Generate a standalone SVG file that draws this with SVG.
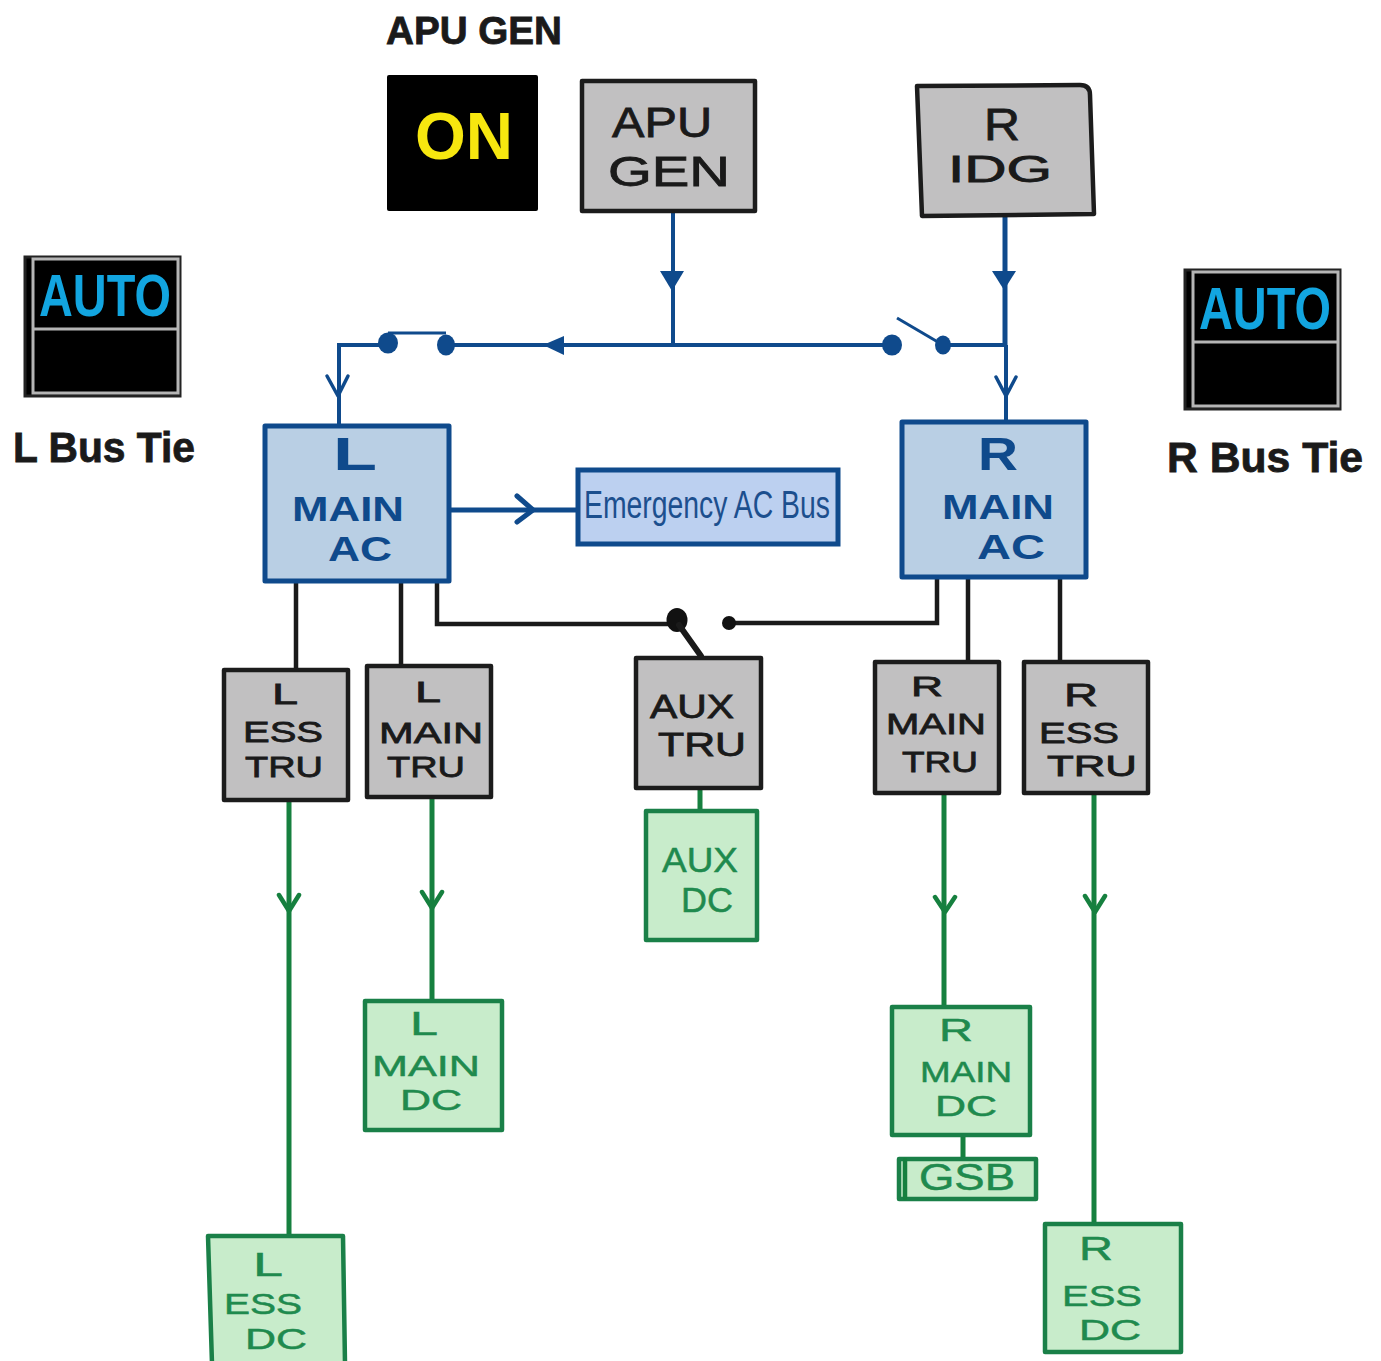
<svg xmlns="http://www.w3.org/2000/svg" width="1381" height="1361" viewBox="0 0 1381 1361">
<style>
text{font-family:"Liberation Sans",Arial,sans-serif;text-anchor:middle}
.gy{fill:#c1c0c1;stroke:#1c1c1c;stroke-width:4.5;stroke-linejoin:round}
.bl{fill:#b9cfe4;stroke:#0f4a8c;stroke-width:5;stroke-linejoin:round}
.gr{fill:#c8eccb;stroke:#1a8048;stroke-width:4.5;stroke-linejoin:round}
.k{fill:#1a1a1a;stroke:#1a1a1a;stroke-width:.8}
.b{fill:#0f4a8c;font-weight:bold}
.g{fill:#1f8a4e;stroke:#1f8a4e;stroke-width:.5}
.wb{fill:#000;stroke:#222;stroke-width:3}
.wi{fill:none;stroke:#b5b5b5;stroke-width:3}
.au{fill:#12a5e0;font-weight:bold}
.cb{fill:none;stroke:#0f4a8c;stroke-width:4}
.cb5{fill:none;stroke:#0f4a8c;stroke-width:5}
.cb3{fill:none;stroke:#0f4a8c;stroke-width:3}
.ck{fill:none;stroke:#1a1a1a;stroke-width:4.5}
.ck6{fill:none;stroke:#1a1a1a;stroke-width:6;stroke-linecap:round}
.cg{fill:none;stroke:#16803f;stroke-width:5}
.ob{fill:none;stroke:#0f4a8c;stroke-width:3.5;stroke-linecap:round;stroke-linejoin:round}
.ob5{fill:none;stroke:#0f4a8c;stroke-width:5;stroke-linecap:round;stroke-linejoin:round}
.og{fill:none;stroke:#16803f;stroke-width:4.5;stroke-linecap:round;stroke-linejoin:round}
.fb{fill:#0f4a8c}
.fk{fill:#111}
</style>
<rect width="1381" height="1361" fill="#fff"/>
<g id="connectors">
<path class="cb" d="M673 210V345M339 345H388M446 345H892M943 345H1004"/>
<path class="cb" d="M339 343V424"/>
<path class="cb3" d="M388 333H446"/>
<path class="fb" d="M660 271H684L672 291Z"/>
<path class="fb" d="M564 336V355L543 345Z"/>
<path class="fb" d="M992 271H1016L1004 290Z"/>
<path class="ob" d="M327 376L338 396L348 376"/>
<path class="cb5" d="M1005 217V345"/>
<path class="cb" d="M1006 345V421"/>
<path class="ob" d="M996 377L1006 396L1016 377"/>
<path class="cb3" d="M897 318L943 345"/>
<ellipse class="fb" cx="388" cy="343" rx="10" ry="10.5"/>
<ellipse class="fb" cx="446" cy="345" rx="9" ry="10.5"/>
<ellipse class="fb" cx="892" cy="345" rx="10" ry="10.5"/>
<ellipse class="fb" cx="943" cy="345" rx="8" ry="9.5"/>
<path class="cb5" d="M450 510H578"/>
<path class="ob5" d="M517 496L533 510L517 522"/>
<path class="ck" d="M296 582V670M401 582V666"/>
<path class="ck" d="M437 582V624H678"/>
<path class="ck" d="M729 623H937V578M968 578V662M1060 578V662"/>
<ellipse class="fk" cx="677" cy="620" rx="10.500" ry="12"/>
<circle class="fk" cx="729" cy="623" r="7"/>
<path class="ck6" d="M679 625L701 656"/>
<path class="cg" d="M289 800V1236M432 798V1000M700 788V811M944 794V1006M1094 794V1224M963 1135V1158"/>
<path class="og" d="M279 895L289 911L299 895M422 892L432 908L442 892M935 897L945 912L955 897M1085 896L1095 912L1105 896"/>
</g>
<g id="apu-gen-label"><text class="k" x="474" y="44" font-size="38" font-weight="bold" textLength="176" lengthAdjust="spacingAndGlyphs">APU GEN</text></g>
<g id="apu-gen-indicator"><rect x="387" y="75" width="151" height="136" fill="#000" rx="2"/><text x="464" y="159" font-size="66" font-weight="bold" fill="#f7e70f" textLength="98" lengthAdjust="spacingAndGlyphs">ON</text></g>
<g id="apu-gen"><rect class="gy" x="582" y="81" width="173" height="130"/><text class="k" x="662" y="137" font-size="42" textLength="100" lengthAdjust="spacingAndGlyphs">APU</text><text class="k" x="669" y="186" font-size="42" textLength="122" lengthAdjust="spacingAndGlyphs">GEN</text></g>
<g id="r-idg"><path class="gy" d="M917 86L1080 85Q1090 85 1090 95L1094 214L922 216Z"/><text class="k" x="1002" y="140" font-size="44" textLength="36" lengthAdjust="spacingAndGlyphs">R</text><text class="k" x="1000" y="182" font-size="36" textLength="104" lengthAdjust="spacingAndGlyphs">IDG</text></g>
<g id="l-bus-tie-indicator"><rect class="wb" x="25" y="257" width="155" height="139"/><rect class="wi" x="33" y="259" width="145" height="134"/><path class="wi" d="M33 329H178"/><text class="au" x="105" y="316" font-size="60" textLength="132" lengthAdjust="spacingAndGlyphs">AUTO</text></g>
<g id="l-bus-tie-label"><text class="k" x="104" y="462" font-size="42" font-weight="bold" textLength="182" lengthAdjust="spacingAndGlyphs">L Bus Tie</text></g>
<g id="r-bus-tie-indicator"><rect class="wb" x="1185" y="270" width="155" height="139"/><rect class="wi" x="1193" y="272" width="145" height="134"/><path class="wi" d="M1193 342H1338"/><text class="au" x="1265" y="329" font-size="60" textLength="132" lengthAdjust="spacingAndGlyphs">AUTO</text></g>
<g id="r-bus-tie-label"><text class="k" x="1265" y="472" font-size="42" font-weight="bold" textLength="196" lengthAdjust="spacingAndGlyphs">R Bus Tie</text></g>
<g id="l-main-ac"><rect class="bl" x="265" y="426" width="184" height="155"/><text class="b" x="355" y="470" font-size="46" textLength="44" lengthAdjust="spacingAndGlyphs">L</text><text class="b" x="348" y="521" font-size="35" textLength="112" lengthAdjust="spacingAndGlyphs">MAIN</text><text class="b" x="360" y="561" font-size="35" textLength="64" lengthAdjust="spacingAndGlyphs">AC</text></g>
<g id="emergency-ac-bus"><rect x="578" y="470" width="260" height="74" fill="#bcd0f0" stroke="#0f4a8c" stroke-width="5"/><text x="707" y="518" font-size="38" fill="#1c4f8e" textLength="246" lengthAdjust="spacingAndGlyphs">Emergency AC Bus</text></g>
<g id="r-main-ac"><rect class="bl" x="902" y="422" width="184" height="155"/><text class="b" x="998" y="470" font-size="46" textLength="40" lengthAdjust="spacingAndGlyphs">R</text><text class="b" x="998" y="519" font-size="35" textLength="112" lengthAdjust="spacingAndGlyphs">MAIN</text><text class="b" x="1011" y="559" font-size="35" textLength="68" lengthAdjust="spacingAndGlyphs">AC</text></g>
<g id="l-ess-tru"><rect class="gy" x="224" y="670" width="124" height="130"/><text class="k" x="285" y="704" font-size="30" textLength="26" lengthAdjust="spacingAndGlyphs">L</text><text class="k" x="283" y="742" font-size="30" textLength="80" lengthAdjust="spacingAndGlyphs">ESS</text><text class="k" x="284" y="777" font-size="30" textLength="78" lengthAdjust="spacingAndGlyphs">TRU</text></g>
<g id="l-main-tru"><rect class="gy" x="367" y="666" width="124" height="131"/><text class="k" x="428" y="702" font-size="30" textLength="26" lengthAdjust="spacingAndGlyphs">L</text><text class="k" x="431" y="743" font-size="30" textLength="104" lengthAdjust="spacingAndGlyphs">MAIN</text><text class="k" x="426" y="777" font-size="30" textLength="78" lengthAdjust="spacingAndGlyphs">TRU</text></g>
<g id="aux-tru"><rect class="gy" x="636" y="658" width="125" height="130"/><text class="k" x="692" y="718" font-size="33" textLength="84" lengthAdjust="spacingAndGlyphs">AUX</text><text class="k" x="702" y="756" font-size="33" textLength="88" lengthAdjust="spacingAndGlyphs">TRU</text></g>
<g id="r-main-tru"><rect class="gy" x="875" y="662" width="124" height="131"/><text class="k" x="927" y="696" font-size="28" textLength="32" lengthAdjust="spacingAndGlyphs">R</text><text class="k" x="936" y="734" font-size="30" textLength="100" lengthAdjust="spacingAndGlyphs">MAIN</text><text class="k" x="940" y="772" font-size="30" textLength="76" lengthAdjust="spacingAndGlyphs">TRU</text></g>
<g id="r-ess-tru"><rect class="gy" x="1024" y="662" width="124" height="131"/><text class="k" x="1081" y="706" font-size="32" textLength="34" lengthAdjust="spacingAndGlyphs">R</text><text class="k" x="1079" y="743" font-size="29" textLength="80" lengthAdjust="spacingAndGlyphs">ESS</text><text class="k" x="1092" y="776" font-size="29" textLength="90" lengthAdjust="spacingAndGlyphs">TRU</text></g>
<g id="aux-dc"><rect class="gr" x="646" y="811" width="111" height="129"/><text class="g" x="700" y="872" font-size="35" textLength="76" lengthAdjust="spacingAndGlyphs">AUX</text><text class="g" x="707" y="912" font-size="35" textLength="52" lengthAdjust="spacingAndGlyphs">DC</text></g>
<g id="l-main-dc"><rect class="gr" x="365" y="1001" width="137" height="129"/><text class="g" x="424" y="1035" font-size="34" textLength="28" lengthAdjust="spacingAndGlyphs">L</text><text class="g" x="426" y="1076" font-size="30" textLength="108" lengthAdjust="spacingAndGlyphs">MAIN</text><text class="g" x="431" y="1110" font-size="29" textLength="62" lengthAdjust="spacingAndGlyphs">DC</text></g>
<g id="r-main-dc"><rect class="gr" x="892" y="1007" width="138" height="128"/><text class="g" x="956" y="1041" font-size="32" textLength="34" lengthAdjust="spacingAndGlyphs">R</text><text class="g" x="966" y="1082" font-size="30" textLength="92" lengthAdjust="spacingAndGlyphs">MAIN</text><text class="g" x="966" y="1116" font-size="29" textLength="62" lengthAdjust="spacingAndGlyphs">DC</text></g>
<g id="gsb"><rect class="gr" x="899" y="1159" width="137" height="40"/><path class="og" d="M905 1160V1198"/><text class="g" x="967" y="1190" font-size="36" textLength="96" lengthAdjust="spacingAndGlyphs">GSB</text></g>
<g id="l-ess-dc"><path class="gr" d="M208 1236H343L345 1364H212Z"/><text class="g" x="268" y="1276" font-size="34" textLength="30" lengthAdjust="spacingAndGlyphs">L</text><text class="g" x="263" y="1314" font-size="30" textLength="78" lengthAdjust="spacingAndGlyphs">ESS</text><text class="g" x="276" y="1349" font-size="30" textLength="62" lengthAdjust="spacingAndGlyphs">DC</text></g>
<g id="r-ess-dc"><rect class="gr" x="1045" y="1224" width="136" height="128"/><text class="g" x="1096" y="1260" font-size="34" textLength="34" lengthAdjust="spacingAndGlyphs">R</text><text class="g" x="1102" y="1306" font-size="30" textLength="80" lengthAdjust="spacingAndGlyphs">ESS</text><text class="g" x="1110" y="1340" font-size="29" textLength="62" lengthAdjust="spacingAndGlyphs">DC</text></g>
</svg>
